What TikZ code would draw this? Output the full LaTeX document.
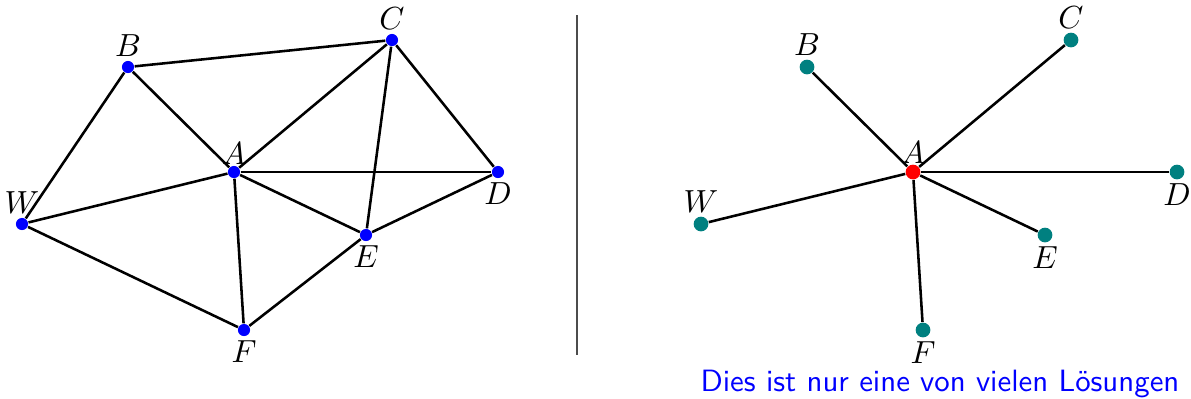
\documentclass[tikz,border=0pt]{standalone}
\usepackage{xcolor}
\definecolor{knotgruen}{RGB}{0,128,128}
\tikzset{
  kante/.style={thick},
  punkt/.style={circle, fill=blue, inner sep=0pt, minimum size=3.8pt},
  baumpunkt/.style={circle, fill=knotgruen, inner sep=0pt, minimum size=4.6pt},
  wurzel/.style={circle, fill=red, inner sep=0pt, minimum size=4.6pt},
  every label/.style={inner sep=1pt},
}
\begin{document}
\begin{tikzpicture}[x=0.011cm, y=-0.011cm]
    \useasboundingbox (0,0) rectangle (1191,398);

    % Graph links
    \node[punkt, label=above:$B$] (B) at (128,67) {};
    \node[punkt, label=above:$C$] (C) at (392,40) {};
    \node[punkt, label={[yshift=-1pt]above:$A$}] (A) at (234,172) {};
    \node[punkt, label=below:$D$] (D) at (498,172) {};
    \node[punkt, label=above:$W$] (W) at (22,224) {};
    \node[punkt, label=below:$E$] (E) at (366,235) {};
    \node[punkt, label=below:$F$] (F) at (244,330) {};
    \foreach \u/\v in {B/C, B/A, B/W, C/A, C/D, C/E, A/D, A/W, A/E, A/F, W/F, E/D, E/F}
      \draw[kante] (\u) -- (\v);

    % Trennlinie
    \coordinate (oben) at (577,15);
    \coordinate (unten) at (577,355);
    \draw[black!70] (oben) -- (unten);

    % Spannbaum rechts
    \node[wurzel, label={[yshift=-1pt]above:$A$}] (A2) at (913,172) {};
    \node[baumpunkt, label=above:$B$] (B2) at (807,67) {};
    \node[baumpunkt, label=above:$C$] (C2) at (1071,40) {};
    \node[baumpunkt, label=below:$D$] (D2) at (1177,172) {};
    \node[baumpunkt, label=above:$W$] (W2) at (701,224) {};
    \node[baumpunkt, label=below:$E$] (E2) at (1045,235) {};
    \node[baumpunkt, label=below:$F$] (F2) at (923,330) {};
    \foreach \v in {B2, C2, D2, W2, E2, F2}
      \draw[kante] (A2) -- (\v);

    \node[blue, font=\sffamily, scale=0.965] (hinweis) at (940,384) {Dies ist nur eine von vielen Lösungen};
\end{tikzpicture}
\end{document}
